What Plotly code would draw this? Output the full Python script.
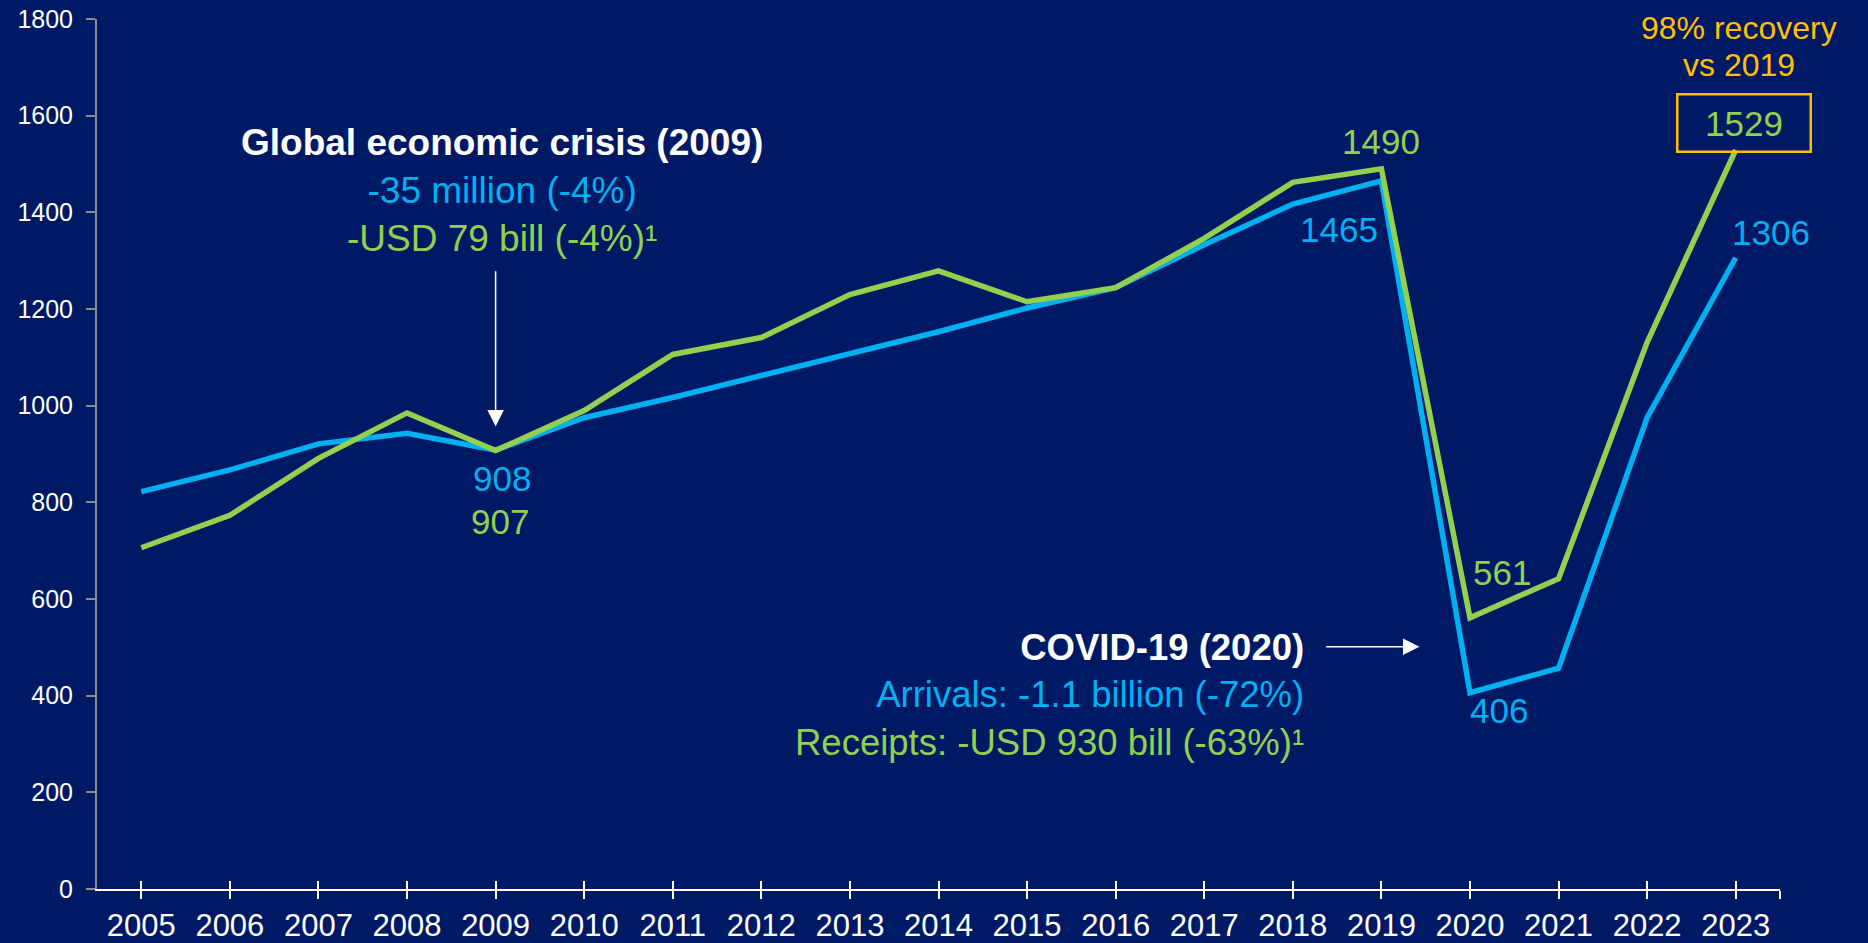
import plotly.graph_objects as go

years = list(range(2005, 2024))
arrivals = [822, 867, 921, 943, 908, 975, 1017, 1062, 1109, 1153, 1202, 1244, 1333, 1417, 1465, 406, 457, 975, 1306]
receipts = [706, 773, 891, 985, 907, 990, 1106, 1141, 1230, 1279, 1215, 1244, 1346, 1462, 1490, 561, 642, 1131, 1529]
y_ticks = [0, 200, 400, 600, 800, 1000, 1200, 1400, 1600, 1800]

BG = "#001965"
BLUE = "#00B0F0"
GREEN = "#92D050"
GOLD = "#FFC000"
WHITE = "#FFFFFF"
FONT = "Liberation Sans, Arial, sans-serif"

fig = go.Figure()
fig.add_trace(go.Scatter(x=years, y=arrivals, mode="lines", name="Arrivals",
                         line=dict(color=BLUE, width=5.5), hoverinfo="skip"))
fig.add_trace(go.Scatter(x=years, y=receipts, mode="lines", name="Receipts",
                         line=dict(color=GREEN, width=5.5), hoverinfo="skip"))

xr = [2004.5, 2023.5]
tickvals = years + [2023.5]
ticktext = [str(y) for y in years] + [""]

fig.update_layout(
    width=1868, height=943,
    paper_bgcolor=BG, plot_bgcolor=BG,
    margin=dict(l=97, r=88, t=19, b=54, autoexpand=False),
    showlegend=False,
    font=dict(family=FONT, color=WHITE),
    xaxis=dict(range=xr, tickmode="array", tickvals=tickvals, ticktext=ticktext, automargin=False,
               showgrid=False, zeroline=False, showline=True, linecolor=WHITE, linewidth=2,
               ticks="outside", ticklen=8, tickwidth=2, tickcolor=WHITE,
               tickfont=dict(size=31, color=WHITE, family=FONT), ticklabelstandoff=0),
    xaxis2=dict(range=xr, overlaying="x", anchor="y", side="bottom", tickmode="array", automargin=False,
                tickvals=tickvals, showticklabels=False, showgrid=False, zeroline=False,
                showline=False, ticks="inside", ticklen=8, tickwidth=2, tickcolor=WHITE),
    yaxis=dict(range=[0, 1800], tickmode="array", tickvals=y_ticks, automargin=False,
               showgrid=False, zeroline=False, showline=True, linecolor="#8C8C8C", linewidth=2,
               ticks="outside", ticklen=9, tickwidth=2, tickcolor="#8C8C8C",
               tickfont=dict(size=25, color=WHITE, family=FONT), ticklabelstandoff=8),
)
# invisible trace on overlay axis so its ticks render
fig.add_trace(go.Scatter(x=[years[0]], y=[arrivals[0]], xaxis="x2", mode="markers",
                         marker=dict(opacity=0), hoverinfo="skip", showlegend=False))

def idx(y):
    return years.index(y)

# data labels: (year, series values, color, xshift, yshift)
labels = [
    (2009, arrivals, BLUE, 6, -28),
    (2009, receipts, GREEN, 4, -71),
    (2019, receipts, GREEN, 0, 27),
    (2019, arrivals, BLUE, -42, -49),
    (2020, receipts, GREEN, 32, 45),
    (2020, arrivals, BLUE, 29, -18),
    (2023, arrivals, BLUE, 35, 25),
]
for yr, series, col, dx, dy in labels:
    v = series[idx(yr)]
    fig.add_annotation(x=yr, y=v, text=str(v), showarrow=False, xshift=dx, yshift=dy,
                       font=dict(size=35, color=col, family=FONT), xanchor="center", yanchor="middle")

# boxed 2023 receipts label
v23 = receipts[idx(2023)]
fig.add_annotation(x=2023, y=v23, text=str(v23), showarrow=False, xshift=8, yshift=26.5,
                   width=131, height=55, borderpad=0, borderwidth=2.5, bordercolor=GOLD,
                   align="center", valign="middle", xanchor="center", yanchor="middle",
                   font=dict(size=35, color=GREEN, family=FONT))

# recovery note
fig.add_annotation(x=2023, y=v23, text="98% recovery", showarrow=False,
                   xshift=3, yshift=122, font=dict(size=32, color=GOLD, family=FONT))
fig.add_annotation(x=2023, y=v23, text="vs 2019", showarrow=False,
                   xshift=3, yshift=85, font=dict(size=32, color=GOLD, family=FONT))

# Global economic crisis block
crisis_text = ("<b>Global economic crisis (2009)</b><br>"
               f"<span style='color:{BLUE}'>-35 million (-4%)</span><br>"
               f"<span style='color:{GREEN}'>-USD 79 bill (-4%)¹</span>")
fig.add_annotation(x=2009.07, y=1445, text=crisis_text, showarrow=False, align="center",
                   xanchor="center", yanchor="middle", font=dict(size=37, color=WHITE, family=FONT))
fig.add_annotation(x=2009, y=957, ax=2009, ay=1281, xref="x", yref="y", axref="x", ayref="y",
                   text="", showarrow=True, arrowhead=2, arrowsize=2.2, arrowwidth=1.5,
                   arrowcolor=WHITE)

# COVID block
covid_text = ("<b>COVID-19 (2020)</b><br>"
              f"<span style='color:{BLUE}'>Arrivals: -1.1 billion (-72%)</span><br>"
              f"<span style='color:{GREEN}'>Receipts: -USD 930 bill (-63%)¹</span>")
fig.add_annotation(x=2018.145, y=401, text=covid_text, showarrow=False, align="right",
                   xanchor="right", yanchor="middle", font=dict(size=36.5, color=WHITE, family=FONT))
fig.add_annotation(x=2019.43, y=501, ax=2018.36, ay=501, xref="x", yref="y", axref="x", ayref="y",
                   text="", showarrow=True, arrowhead=2, arrowsize=2.2, arrowwidth=1.5,
                   arrowcolor=WHITE)

fig.write_html("out.html", config={"displayModeBar": False, "staticPlot": True},
               post_script="document.body.style.margin='0';")
